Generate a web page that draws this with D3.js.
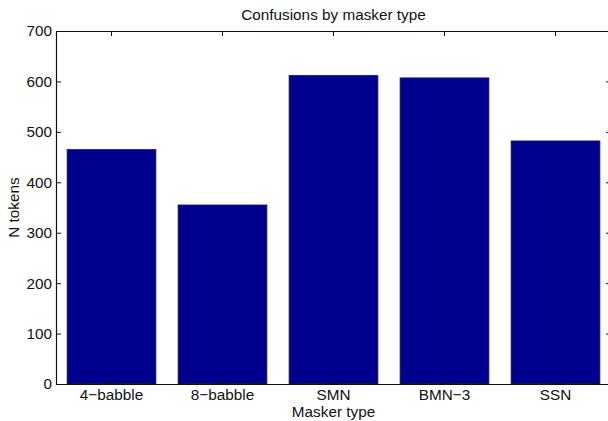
<!DOCTYPE html>
<html>
<head>
<meta charset="utf-8">
<script src="https://cdn.jsdelivr.net/npm/d3@7"></script>
<style>
  body { margin: 0; background: #fff; }
  text { font-family: "Liberation Sans", Arial, Helvetica, sans-serif; fill: #111; }
</style>
</head>
<body>
<div id="chart-area"></div>
<script>
// data
const maskers = ["4\u2212babble", "8\u2212babble", "SMN", "BMN\u22123", "SSN"]
const tokens = [465, 355, 612, 607, 482]
const yTicks = [0, 100, 200, 300, 400, 500, 600, 700]

const W = 608, H = 421
// axes box (right edge runs just past the window, like the original)
const AX = {LEFT: 56, RIGHT: 611, TOP: 31, BOTTOM: 384}
const FONT = "15.3px"
const TICK = 5

const svg = d3.select("#chart-area").append("svg")
    .attr("width", W)
    .attr("height", H)

const x = d3.scaleBand()
    .domain(maskers)
    .range([AX.LEFT, AX.RIGHT])
    .paddingInner(0.2)
    .paddingOuter(0.1)

const y = d3.scaleLinear()
    .domain([0, 700])
    .range([AX.BOTTOM, AX.TOP])

// --- bars
svg.selectAll("rect.bar")
    .data(maskers)
    .enter()
    .append("rect")
    .attr("class", "bar")
    .attr("x", d => x(d))
    .attr("width", x.bandwidth())
    .attr("y", (d, i) => y(tokens[i]))
    .attr("height", (d, i) => AX.BOTTOM - y(tokens[i]))
    .attr("fill", "#00008f")
    .attr("stroke", "#222")
    .attr("stroke-width", 0.8)

// --- axes (MATLAB style: ticks pointing in, on all four sides)
const yLeft = d3.axisLeft(y).tickValues(yTicks).tickSizeInner(-TICK).tickSizeOuter(0).tickPadding(4)
svg.append("g")
    .attr("class", "yaxis")
    .attr("transform", `translate(${AX.LEFT},0)`)
    .call(yLeft)

const yRight = d3.axisRight(y).tickValues(yTicks).tickSizeInner(-TICK).tickSizeOuter(0).tickFormat("")
svg.append("g")
    .attr("transform", `translate(${AX.RIGHT},0)`)
    .call(yRight)

const xBottom = d3.axisBottom(x).tickSizeInner(-TICK).tickSizeOuter(0).tickPadding(5)
svg.append("g")
    .attr("class", "xaxis")
    .attr("transform", `translate(0,${AX.BOTTOM})`)
    .call(xBottom)

const xTop = d3.axisTop(x).tickSizeInner(-TICK).tickSizeOuter(0).tickFormat("")
svg.append("g")
    .attr("transform", `translate(0,${AX.TOP})`)
    .call(xTop)

svg.selectAll(".domain").attr("stroke", "#111").attr("stroke-width", 1.2)
svg.selectAll(".tick line").attr("stroke", "#111")
svg.selectAll(".tick text")
    .attr("font-size", FONT)
    .attr("font-family", "Liberation Sans, Arial, sans-serif")
    .attr("fill", "#111")

// --- labels
svg.append("text")
    .attr("x", (AX.LEFT + AX.RIGHT) / 2)
    .attr("y", 20)
    .attr("text-anchor", "middle")
    .attr("font-size", FONT)
    .text("Confusions by masker type")

svg.append("text")
    .attr("x", (AX.LEFT + AX.RIGHT) / 2)
    .attr("y", 417)
    .attr("text-anchor", "middle")
    .attr("font-size", FONT)
    .text("Masker type")

svg.append("text")
    .attr("transform", "rotate(-90)")
    .attr("x", -(AX.TOP + AX.BOTTOM) / 2)
    .attr("y", 19)
    .attr("text-anchor", "middle")
    .attr("font-size", FONT)
    .text("N tokens")
</script>
</body>
</html>
